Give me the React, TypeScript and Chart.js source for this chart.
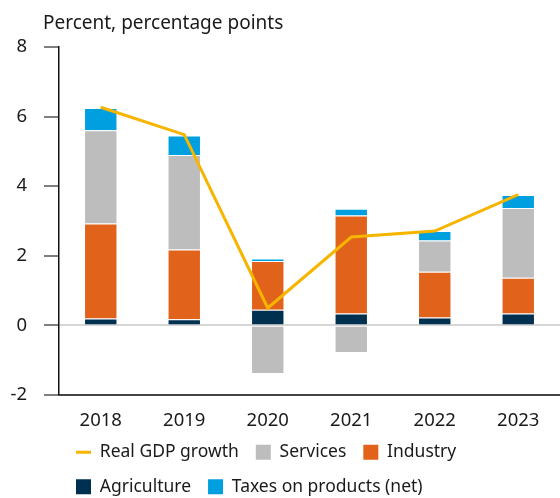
import React, { useEffect, useRef } from "react";
import { Chart, registerables } from "chart.js";

Chart.register(...registerables);

const years = ["2018", "2019", "2020", "2021", "2022", "2023"];
const gdpGrowth = [6.27, 5.48, 0.5, 2.54, 2.71, 3.76];
const agriculture = [0.2, 0.18, 0.45, 0.34, 0.23, 0.34];
const industry = [2.73, 2.0, 1.4, 2.82, 1.31, 1.03];
const services = [2.68, 2.72, -1.4, -0.79, 0.9, 2.0];
const taxes = [0.64, 0.56, 0.07, 0.19, 0.27, 0.38];
const yMin = -2;
const yMax = 8;
const yStep = 2;
const unitTitle = "Percent, percentage points";

const FONT = "'Noto Sans', sans-serif";
const TEXT = "#1a1a1a";
const legendRank = [3, 2, 1, 4, 0];

const titlePlugin = {
  id: "unitTitle",
  afterDraw(chart: any) {
    const ctx = chart.ctx;
    ctx.save();
    ctx.font = `19px ${FONT}`;
    ctx.fillStyle = TEXT;
    ctx.textAlign = "left";
    ctx.textBaseline = "middle";
    ctx.fillText(unitTitle, chart.chartArea.left - 16, 24);
    ctx.restore();
  },
};

export default function App() {
  const ref = useRef<HTMLCanvasElement>(null);
  useEffect(() => {
    if (!ref.current) return;
    const barBorder = "rgba(255,255,255,0.55)";
    const chart = new Chart(ref.current, {
      type: "bar",
      data: {
        labels: years,
        datasets: [
          { type: "bar", label: "Agriculture", data: agriculture, backgroundColor: "#00304f", borderColor: barBorder, borderWidth: 1, pointStyle: "rect" },
          { type: "bar", label: "Industry", data: industry, backgroundColor: "#e0621b", borderColor: barBorder, borderWidth: 1, pointStyle: "rect" },
          { type: "bar", label: "Services", data: services, backgroundColor: "#bdbdbd", borderColor: barBorder, borderWidth: 1, pointStyle: "rect" },
          { type: "bar", label: "Taxes on products (net)", data: taxes, backgroundColor: "#009fe0", borderColor: barBorder, borderWidth: 1, pointStyle: "rect" },
          { type: "line", label: "Real GDP growth", data: gdpGrowth, borderColor: "#f7b500", backgroundColor: "#f7b500", borderWidth: 3, pointRadius: 0, pointStyle: "line", order: -1, tension: 0 } as any,
        ],
      },
      options: {
        animation: false,
        responsive: false,
        maintainAspectRatio: false,
        datasets: { bar: { barPercentage: 0.4, categoryPercentage: 1 } },
        layout: { padding: { top: 47, right: 0, left: 0, bottom: -7.5 } },
        plugins: {
          title: { display: false },
          tooltip: { enabled: false },
          legend: {
            position: "bottom",
            align: "start",
            fullSize: false,
            labels: {
              usePointStyle: true,
              pointStyleWidth: 15,
              boxHeight: 15,
              padding: 17,
              color: TEXT,
              font: { family: FONT, size: 17.5 },
              sort: (a: any, b: any) => legendRank[a.datasetIndex] - legendRank[b.datasetIndex],
              generateLabels: (chart: any) => {
                const items = Chart.defaults.plugins.legend.labels.generateLabels(chart);
                return items.map((it: any) => {
                  if (it.datasetIndex !== 4) it.lineWidth = 0;
                  return it;
                });
              },
            },
          },
        },
        scales: {
          x: {
            stacked: true,
            grid: { display: false, drawTicks: false },
            border: { display: true, color: "#444", width: 2 },
            ticks: { color: TEXT, font: { family: FONT, size: 18.5 }, padding: 15 },
            afterFit: (s: any) => { s.height = 31.5; },
          },
          y: {
            stacked: true,
            min: yMin,
            max: yMax,
            ticks: { stepSize: yStep, color: TEXT, font: { family: FONT, size: 18.5 }, padding: 17 },
            grid: {
              drawTicks: true,
              tickLength: 15,
              tickColor: "#555",
              tickWidth: 1.5,
              color: (c: any) => (c.tick && c.tick.value === 0 ? "#d6d6d6" : "rgba(0,0,0,0)"),
              lineWidth: (c: any) => (c.tick && c.tick.value === 0 ? 2 : 0),
            },
            border: { display: true, color: "#111", width: 1.5 },
            afterFit: (s: any) => { s.width = 59; },
          },
        },
      },
      plugins: [titlePlugin],
    } as any);
    return () => chart.destroy();
  }, []);
  return (
    <div style={{ position: "fixed", left: 0, top: 0, width: 560, height: 498, background: "#fff" }}>
      <canvas ref={ref} width={560} height={498} style={{ display: "block" }} />
    </div>
  );
}
